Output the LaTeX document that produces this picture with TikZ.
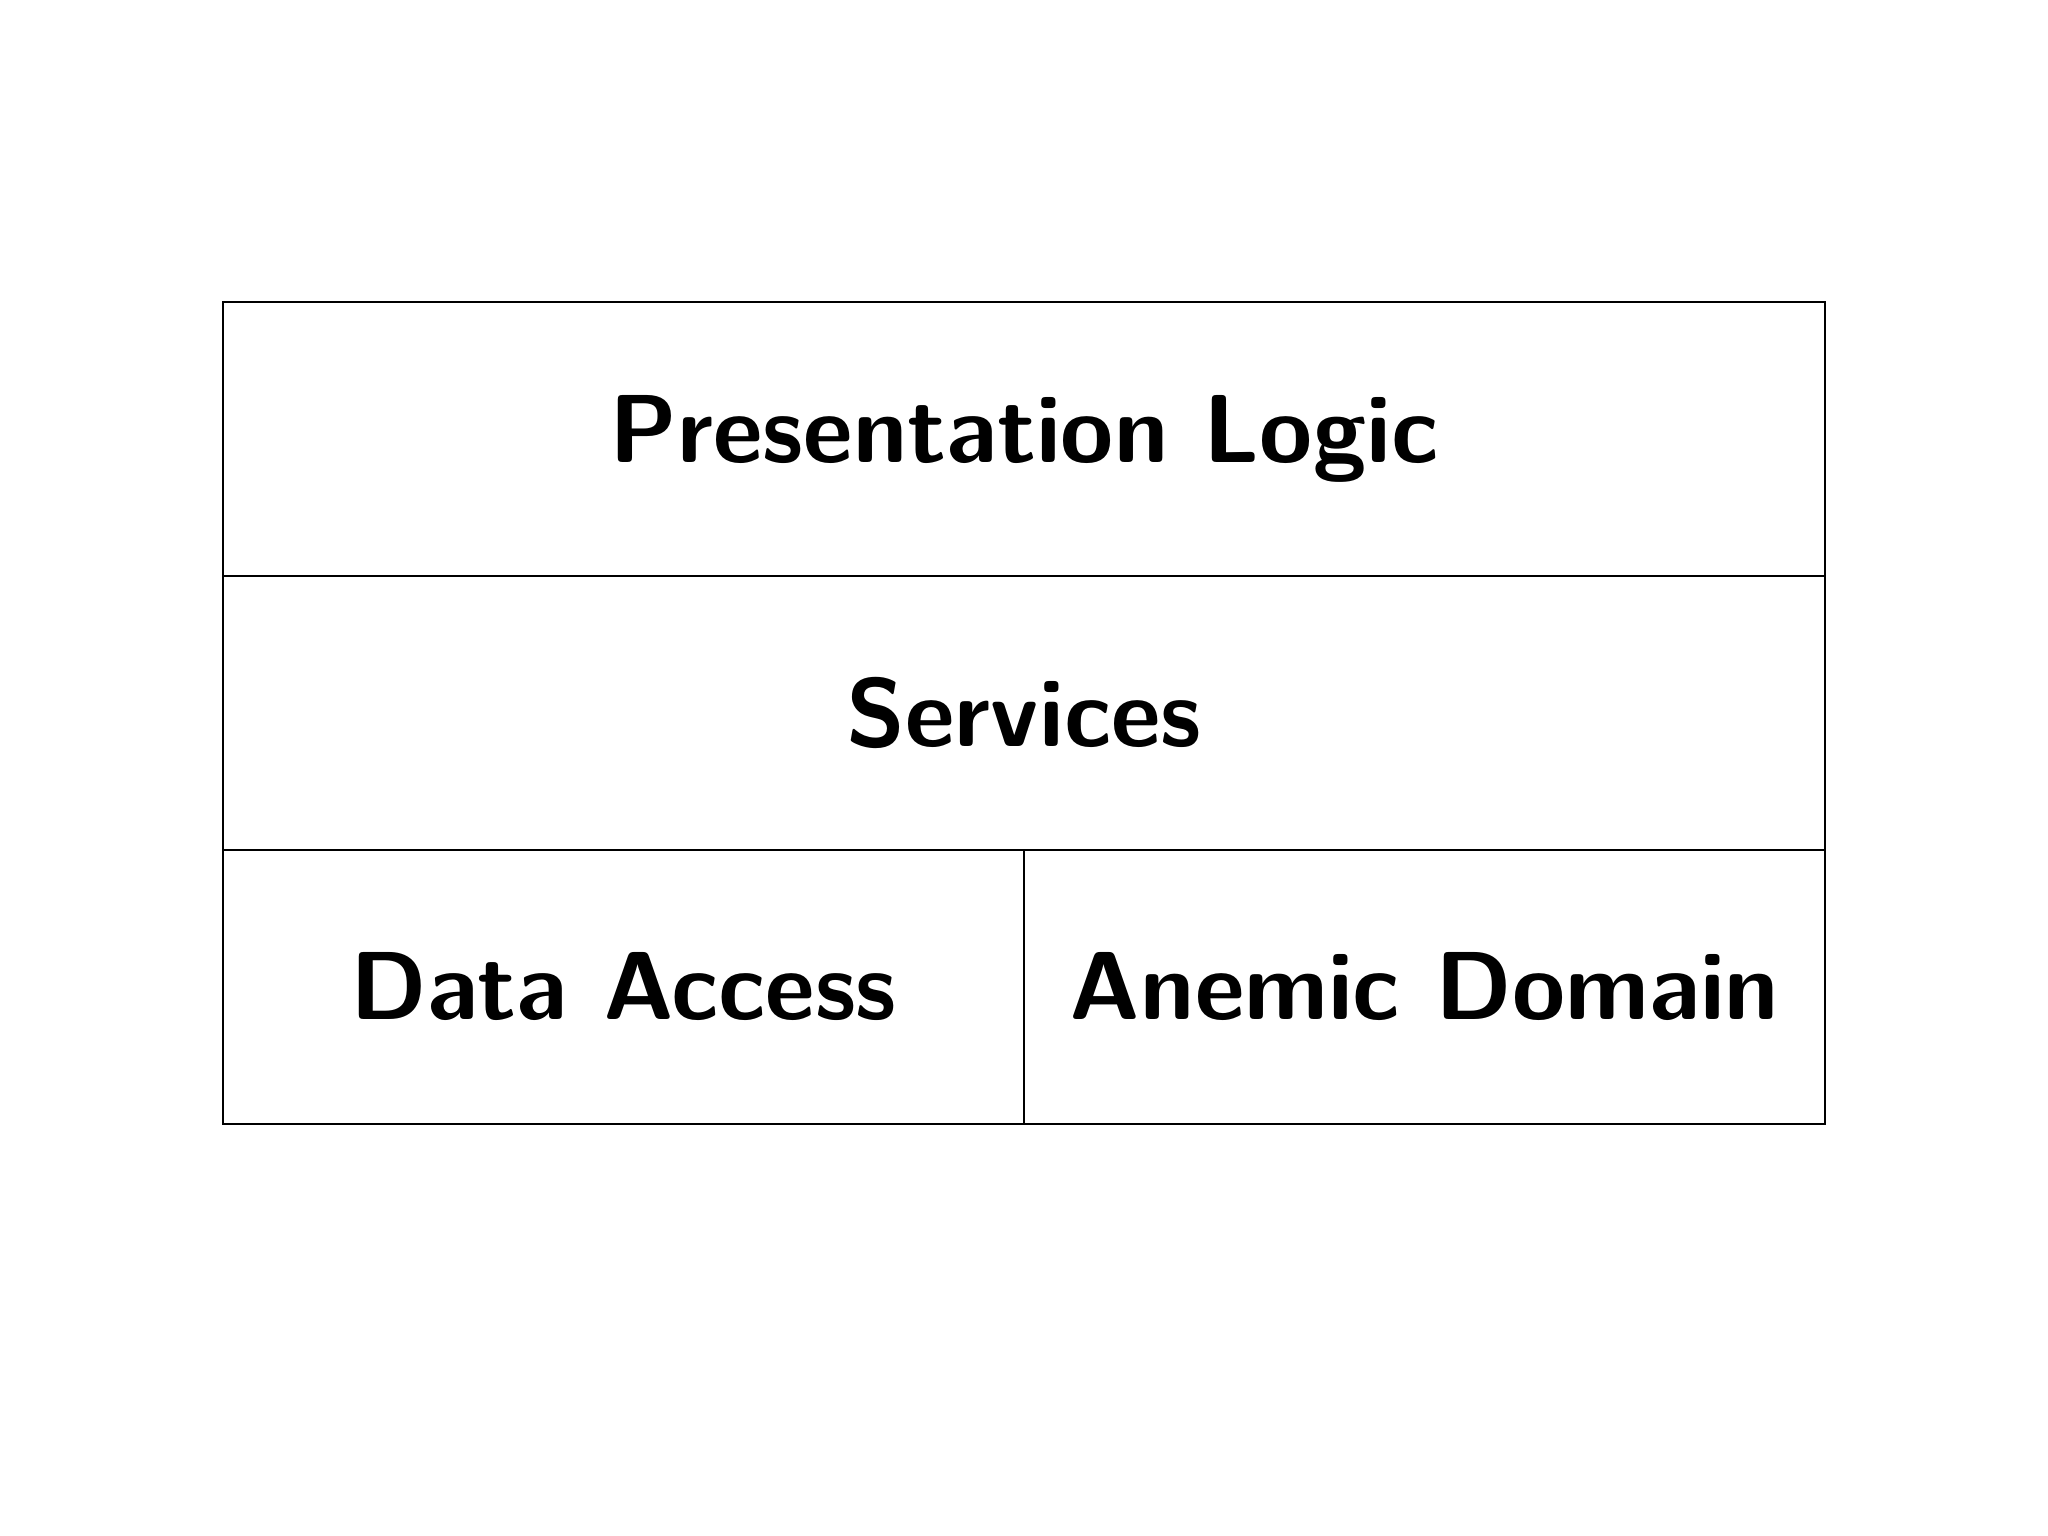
\documentclass[tikz,border=0pt]{standalone}
\usepackage{tikz}
\usetikzlibrary{positioning}
\newcommand{\mLayerStyle}[1]{\textsf{\textbf{#1}}}
\tikzset{layer/.style={draw,line width=0.6pt,inner sep=0pt,outer sep=0pt,minimum height=2.74cm,font=\fontsize{27.5}{33}\selectfont}}

\begin{document}
\begin{tikzpicture}
    \useasboundingbox (0,0) rectangle (20.48,15.36);
    \node[layer,minimum width=16.02cm] (pres) at (10.24,10.97) {\mLayerStyle{Presentation Logic}};
    \node[layer,minimum width=16.02cm,below=0pt of pres] (serv) {\mLayerStyle{Services}};
    \node[layer,minimum width=8.01cm,below=0pt of serv.south west,anchor=north west] (data) {\mLayerStyle{Data Access}};
    \node[layer,minimum width=8.01cm,right=0pt of data] (dom) {\mLayerStyle{Anemic Domain}};
\end{tikzpicture}
\end{document}
